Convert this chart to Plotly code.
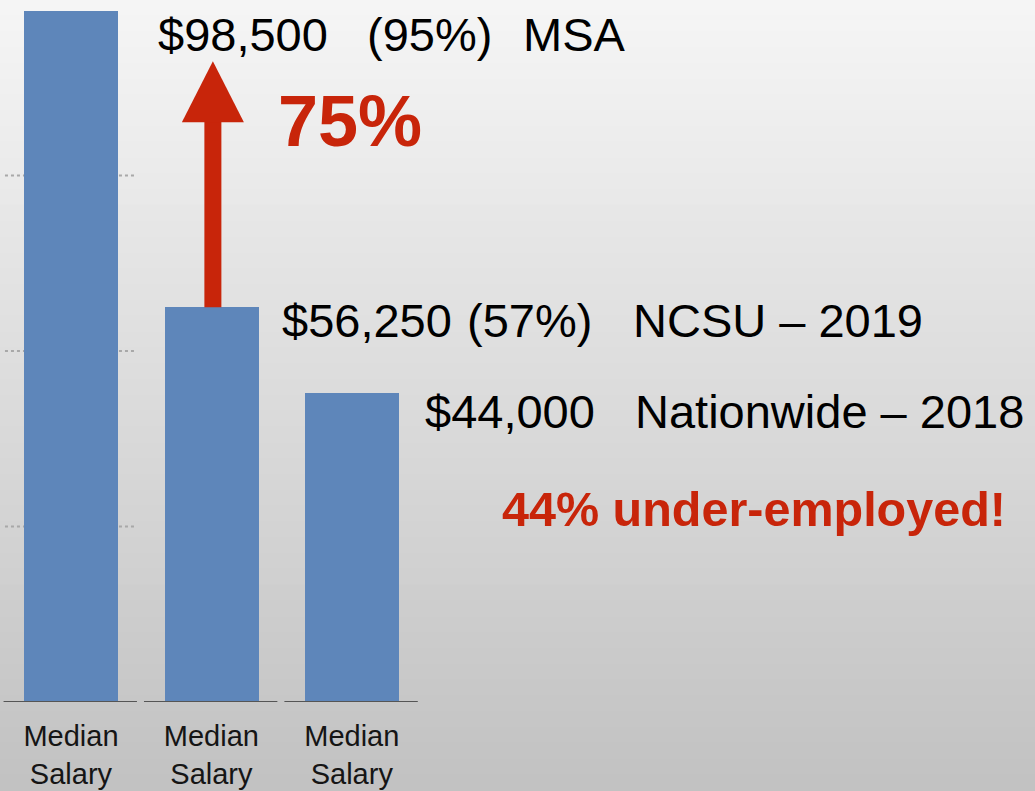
import plotly.graph_objects as go

# ---- data ----
categories = ["MSA", "NCSU – 2019", "Nationwide – 2018"]
salaries = [98500, 56250, 44000]
tick_labels = ["Median<br>Salary", "Median<br>Salary", "Median<br>Salary"]
value_labels = ["$98,500", "$56,250", "$44,000"]
pct_labels = ["(95%)", "(57%)", ""]
name_labels = ["MSA", "NCSU – 2019", "Nationwide – 2018"]
gridlines = [25000, 50000, 75000]
increase_label = "75%"
note_label = "44% under-employed!"

W, H = 1035, 791
BLUE = "#5E86BA"
RED = "#C8250A"
FONT = "Liberation Sans, Arial, Helvetica, sans-serif"

x_idx = list(range(len(categories)))

fig = go.Figure()
fig.add_trace(go.Bar(
    x=x_idx, y=salaries, width=0.67, marker=dict(color=BLUE, line=dict(width=0)),
    hovertext=categories, showlegend=False,
))

shapes = []
# background gradient (decorative)
n = 50
top_c, bot_c = 245, 194
for i in range(n):
    c = round(top_c + (bot_c - top_c) * i / (n - 1))
    shapes.append(dict(type="rect", xref="paper", yref="paper",
                       x0=0, x1=1, y0=1 - (i + 1) / n, y1=1 - i / n + 0.001,
                       fillcolor=f"rgb({c},{c},{c})", line=dict(width=0), layer="below"))
# dotted gridlines only in first category slot
for g in gridlines:
    shapes.append(dict(type="line", xref="x", yref="y", x0=-0.47, x1=0.46, y0=g, y1=g,
                       line=dict(color="#A8A8A8", width=2, dash="dot"), layer="below"))
# baseline segments under each bar
for i in x_idx:
    shapes.append(dict(type="line", xref="x", yref="y", x0=i - 0.48, x1=i + 0.47, y0=0, y1=0,
                       line=dict(color="#555555", width=2), layer="above"))
# arrow from bar 2 top upward
shapes.append(dict(type="rect", xref="x", yref="y", xsizemode="pixel", ysizemode="pixel",
                   xanchor=1, yanchor=salaries[1], x0=-7, x1=10, y0=0, y1=186,
                   fillcolor=RED, line=dict(width=0), layer="above"))
shapes.append(dict(type="path", xref="x", yref="y", xsizemode="pixel", ysizemode="pixel",
                   xanchor=1, yanchor=salaries[1],
                   path="M-29.5,185 L32.5,185 L1.5,246 Z",
                   fillcolor=RED, line=dict(width=0), layer="above"))

ann = []
def txt(s, px, py, size=47, color="#000000", bold=False):
    ann.append(dict(text=s, x=px / W, y=1 - py / H, xref="paper", yref="paper",
                    xanchor="left", yanchor="middle", showarrow=False,
                    font=dict(family=FONT, size=size, color=color,
                              weight="bold" if bold else "normal")))

label_rows = [
    (value_labels[0], 156, pct_labels[0], 365, name_labels[0], 521, 34),
    (value_labels[1], 280, pct_labels[1], 465, name_labels[1], 631, 320),
    (value_labels[2], 423, pct_labels[2], 0, name_labels[2], 633, 411),
]
for v, vx, p, px_, nm, nx, yy in label_rows:
    txt(v, vx, yy)
    if p:
        txt(p, px_, yy)
    txt(nm, nx, yy)

txt(increase_label, 276, 121, size=72, color=RED, bold=True)
txt(note_label, 500, 509, size=48.5, color=RED, bold=True)

scale = 0.00702  # px per dollar
R = 702 / scale

fig.update_layout(
    width=W, height=H, autosize=False,
    margin=dict(l=0, r=0, t=0, b=0),
    paper_bgcolor="rgba(0,0,0,0)", plot_bgcolor="rgba(0,0,0,0)",
    bargap=0,
    xaxis=dict(domain=[0.75 / W, 422 / W], range=[-0.5, 2.5],
               tickvals=x_idx, ticktext=tick_labels, showgrid=False, zeroline=False,
               showline=False, ticks="", ticklabelstandoff=14,
               tickfont=dict(family=FONT, size=29, color="#151515")),
    yaxis=dict(domain=[(H - 702) / H, 1], range=[0, R], showgrid=False, zeroline=False,
               showticklabels=False, showline=False),
    shapes=shapes, annotations=ann,
)

fig.write_html("out.html",
               config={"displayModeBar": False},
               post_script="document.body.style.margin='0';document.body.style.overflow='hidden';")
